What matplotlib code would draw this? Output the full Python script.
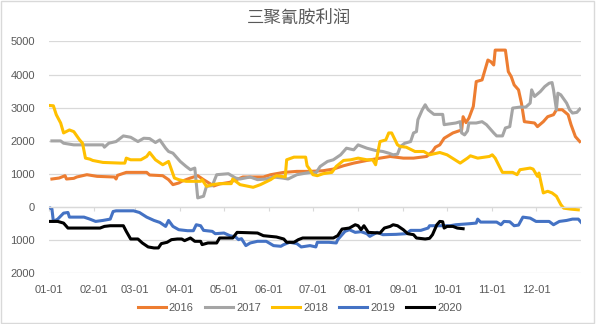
import matplotlib
matplotlib.use("Agg")
import matplotlib.pyplot as plt
from matplotlib.patches import Rectangle

# melamine profit by year, day of year (0 = Jan 1) vs value
days_2016 = [2, 7, 11, 12, 17, 19, 26, 33, 45, 46, 47, 53, 67, 69, 78, 82, 85, 89, 91, 97, 102, 106,
             113, 117, 124, 133, 147, 152, 161, 170, 179, 188, 195, 202, 209, 218, 227, 234, 243, 250,
             259, 263, 265, 268, 271, 277, 283, 284, 286, 288, 291, 293, 297, 299, 301, 303, 305, 306,
             313, 315, 317, 319, 322, 324, 326, 333, 335, 339, 342, 346, 348, 352, 356, 358, 361, 364]
vals_2016 = [850, 880, 950, 850, 870, 910, 980, 930, 910, 850, 960, 1050, 1050, 970, 950, 830, 680, 730,
             780, 880, 950, 830, 640, 700, 750, 910, 910, 980, 1050, 1080, 1080, 1100, 1150, 1250, 1330,
             1410, 1480, 1530, 1480, 1480, 1530, 1680, 1810, 1880, 2080, 2240, 2330, 2730, 2550, 2690,
             3040, 3790, 3840, 4140, 4440, 4390, 4290, 4740, 4740, 4090, 3940, 3690, 3540, 3140, 2580,
             2540, 2430, 2580, 2730, 2790, 2940, 2940, 2790, 2490, 2130, 1980]

days_2017 = [2, 8, 10, 17, 37, 38, 41, 46, 51, 56, 61, 65, 69, 73, 76, 80, 82, 85, 88, 90, 94, 97, 100,
             102, 106, 108, 112, 115, 123, 128, 131, 138, 143, 149, 154, 160, 164, 170, 179, 183, 186,
             191, 195, 200, 204, 209, 212, 218, 224, 229, 233, 236, 239, 241, 244, 248, 250, 252, 253,
             256, 258, 260, 264, 270, 271, 279, 282, 283, 285, 287, 288, 293, 297, 300, 305, 307, 311,
             313, 316, 318, 323, 327, 330, 331, 333, 337, 340, 343, 345, 346, 348, 349, 351, 355, 357,
             359, 362, 364]
vals_2017 = [2000, 2000, 1930, 1880, 1880, 1810, 1930, 1980, 2150, 2110, 1980, 2080, 2070, 1950, 2030,
             1780, 1680, 1630, 1480, 1380, 1230, 1130, 1180, 280, 330, 630, 650, 980, 1010, 880, 850, 910,
             830, 850, 910, 880, 850, 980, 1050, 1030, 1230, 1380, 1430, 1580, 1780, 1730, 1880, 1780,
             1710, 1680, 1630, 1580, 1600, 1830, 1930, 1980, 2240, 2280, 2640, 2940, 3090, 2940, 2800,
             2800, 2490, 2540, 2580, 2240, 2180, 2300, 2540, 2540, 2580, 2490, 2240, 2150, 2150, 2390,
             2430, 2990, 3020, 3020, 3140, 3540, 3340, 3490, 3640, 3740, 3760, 3540, 2940, 3440, 3390,
             3140, 2940, 2840, 2860, 2960]

days_2018 = [0, 3, 5, 8, 10, 14, 17, 21, 23, 25, 28, 30, 37, 49, 52, 53, 56, 63, 67, 69, 73, 78, 82, 84,
             86, 89, 94, 104, 105, 108, 112, 117, 125, 126, 131, 140, 145, 152, 156, 162, 163, 168, 176,
             177, 179, 181, 184, 188, 194, 197, 202, 207, 212, 218, 222, 224, 225, 227, 231, 233, 235,
             239, 241, 245, 251, 257, 261, 268, 273, 282, 287, 289, 294, 302, 304, 306, 310, 311, 318,
             321, 323, 330, 332, 335, 336, 338, 339, 342, 345, 348, 351, 353, 358, 363]
vals_2018 = [3070, 3060, 2790, 2540, 2240, 2330, 2280, 2030, 1930, 1480, 1450, 1410, 1350, 1330, 1330,
             1480, 1430, 1430, 1530, 1650, 1430, 1280, 1380, 1130, 880, 830, 780, 780, 830, 630, 680, 710,
             710, 850, 680, 600, 680, 830, 950, 910, 1430, 1510, 1510, 1250, 1130, 980, 950, 1010, 1050,
             1230, 1410, 1430, 1480, 1430, 1430, 1280, 1530, 1980, 2030, 2240, 2240, 1880, 1830, 1810,
             1680, 1680, 1580, 1650, 1580, 1330, 1480, 1550, 1480, 1530, 1580, 1480, 1130, 1050, 1050,
             980, 1130, 1180, 1150, 930, 1030, 630, 430, 480, 430, 330, 80, -30, -60, -80]

days_2019 = [1, 2, 3, 6, 10, 13, 14, 24, 28, 32, 37, 42, 44, 46, 58, 62, 67, 72, 76, 80, 82, 85, 89, 95,
             99, 101, 104, 106, 112, 114, 120, 124, 128, 130, 132, 135, 138, 143, 149, 154, 159, 161,
             165, 170, 173, 179, 183, 184, 192, 197, 198, 203, 206, 210, 214, 218, 220, 225, 229, 238,
             245, 248, 255, 260, 261, 275, 279, 288, 293, 294, 296, 307, 310, 312, 316, 319, 322, 325,
             330, 334, 343, 346, 350, 355, 359, 363, 365]
vals_2019 = [-30, -50, -430, -360, -180, -160, -300, -300, -360, -430, -400, -360, -130, -110, -110,
             -160, -300, -400, -460, -580, -400, -580, -680, -710, -710, -530, -560, -700, -730, -800,
             -780, -860, -900, -980, -950, -1160, -1080, -1030, -1030, -1160, -1180, -1130, -1060, -1100,
             -1200, -1160, -1200, -1060, -1060, -1080, -980, -730, -680, -760, -740, -800, -880, -760,
             -830, -820, -800, -700, -700, -630, -560, -560, -530, -500, -480, -360, -450, -450, -530,
             -430, -440, -560, -540, -300, -330, -430, -430, -530, -430, -400, -360, -360, -460]

days_2020 = [1, 6, 10, 13, 35, 38, 42, 51, 53, 56, 61, 64, 68, 72, 75, 77, 81, 84, 88, 91, 93, 97, 100,
             104, 105, 109, 115, 117, 126, 129, 143, 147, 156, 161, 163, 168, 171, 174, 195, 198, 201,
             206, 210, 212, 214, 216, 219, 227, 230, 234, 236, 239, 243, 246, 250, 252, 258, 261, 263,
             266, 268, 270, 271, 273, 277, 280, 284]
vals_2020 = [-430, -430, -480, -630, -630, -580, -560, -560, -730, -960, -960, -1080, -1200, -1230,
             -1230, -1100, -1060, -980, -960, -960, -1010, -930, -1030, -1030, -1130, -1080, -1080, -930,
             -930, -760, -780, -860, -900, -960, -1060, -1060, -980, -930, -930, -860, -660, -630, -530,
             -560, -680, -560, -760, -780, -630, -580, -530, -560, -680, -800, -830, -930, -960, -940,
             -830, -530, -430, -440, -630, -580, -580, -630, -650]

month_days = [0, 31, 59, 90, 120, 151, 181, 212, 243, 273, 304, 334]
month_labels = ['01-01', '02-01', '03-01', '04-01', '05-01', '06-01',
                '07-01', '08-01', '09-01', '10-01', '11-01', '12-01']
y_ticks = [-2000, -1000, 0, 1000, 2000, 3000, 4000, 5000]

series = [
    ('2016', days_2016, vals_2016, '#ED7D31'),
    ('2017', days_2017, vals_2017, '#A5A5A5'),
    ('2018', days_2018, vals_2018, '#FFC000'),
    ('2019', days_2019, vals_2019, '#4472C4'),
    ('2020', days_2020, vals_2020, '#000000'),
]

plt.rcParams['font.family'] = ['Liberation Sans', 'DejaVu Sans']
text_color = '#595959'
grid_color = '#D9D9D9'

fig = plt.figure(figsize=(5.96, 3.24), dpi=100)
ax = fig.add_axes([0.0822, 0.156, 0.893, 0.716])

for name, d, v, c in series:
    ax.plot(d, v, color=c, linewidth=2.2, label=name, solid_joinstyle='round')

ax.set_xlim(0, 365)
ax.set_ylim(-2000, 5000)
ax.set_yticks(y_ticks)
ax.set_yticklabels([str(abs(t)) for t in y_ticks])
ax.set_xticks(month_days)
ax.set_xticklabels(month_labels)

ax.grid(axis='y', color=grid_color, linewidth=0.9)
ax.set_axisbelow(True)
for s in ['left', 'right', 'bottom']:
    ax.spines[s].set_visible(False)
# category axis crosses at zero, with its tick marks there
ax.spines['top'].set_position(('data', 0))
ax.spines['top'].set_color(grid_color)
ax.spines['top'].set_linewidth(0.9)
ax.tick_params(axis='x', bottom=False, top=True, direction='in', length=3,
               color=grid_color, labelbottom=True, labeltop=False, pad=8,
               labelsize=8, labelcolor=text_color)
ax.tick_params(axis='y', length=0, pad=10, labelsize=8, labelcolor=text_color)

fig.text(0.502, 0.944, '三聚氰胺利润', ha='center', va='center', fontsize=12.5,
         color=text_color, fontweight='light', family=['Noto Sans CJK SC', 'DejaVu Sans'])

fig.legend(loc='center', bbox_to_anchor=(0.503, 0.05), ncol=5, frameon=False,
           fontsize=8, handlelength=2.5, handletextpad=0.3, columnspacing=1.0,
           labelcolor=text_color)

fig.patches.append(Rectangle((0.002, 0.003), 0.995, 0.994, transform=fig.transFigure,
                             fill=False, edgecolor=grid_color, linewidth=1))

fig.savefig('out.png', dpi=100)
